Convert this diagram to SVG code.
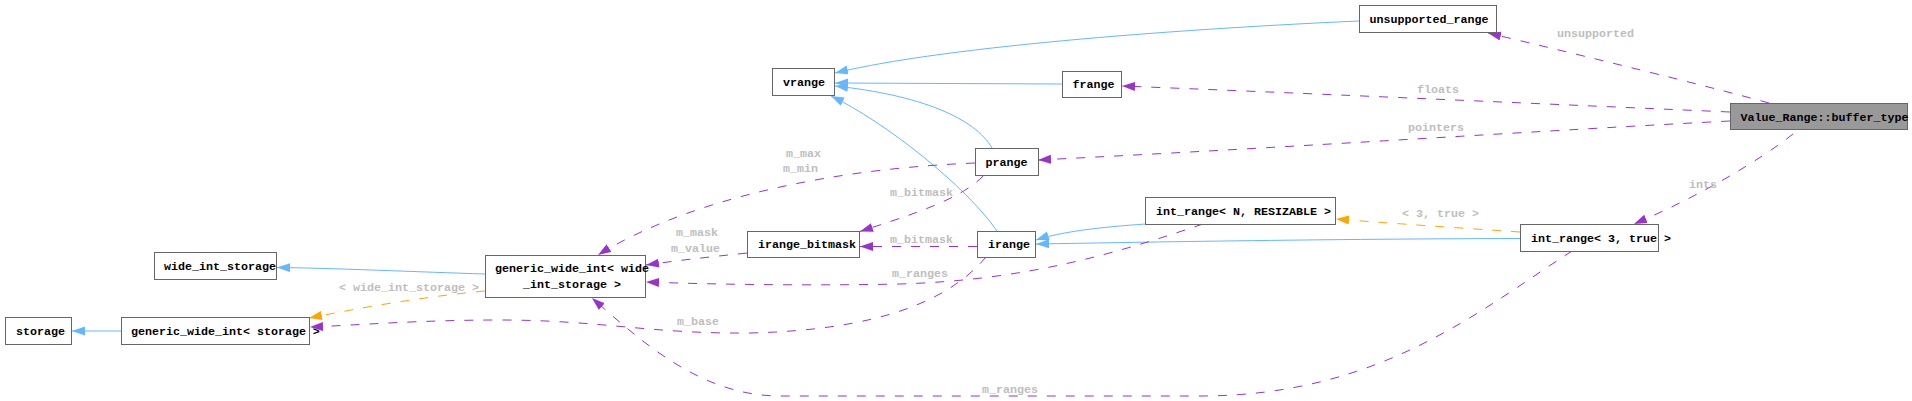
<svg xmlns="http://www.w3.org/2000/svg" width="1912" height="401" viewBox="0 0 1912 401">
<style>
.box{fill:#ffffff;stroke:#666666;stroke-width:1}
.main{fill:#999999;stroke:#666666;stroke-width:1}
.t{font-family:"Liberation Mono","DejaVu Sans Mono",monospace;font-size:11.67px;font-weight:bold;fill:#000000}
.lbl{font-family:"Liberation Mono","DejaVu Sans Mono",monospace;font-size:11.67px;font-weight:bold;fill:#bebebe}
.inh{fill:none;stroke:#63b8ff;stroke-width:1}
.use{fill:none;stroke:#9a32cd;stroke-width:1;stroke-dasharray:9,10}
.tpl{fill:none;stroke:#ffa500;stroke-width:1;stroke-dasharray:9,10}
</style>
<defs>
<marker id="ab" markerUnits="userSpaceOnUse" markerWidth="14" markerHeight="10" refX="13" refY="4.5" orient="auto"><path d="M0,0 L13,4.5 L0,9 z" fill="#63b8ff" stroke="none"/></marker>
<marker id="ap" markerUnits="userSpaceOnUse" markerWidth="14" markerHeight="10" refX="13" refY="4.5" orient="auto"><path d="M0,0 L13,4.5 L0,9 z" fill="#9a32cd" stroke="none"/></marker>
<marker id="ao" markerUnits="userSpaceOnUse" markerWidth="14" markerHeight="10" refX="13" refY="4.5" orient="auto"><path d="M0,0 L13,4.5 L0,9 z" fill="#ffa500" stroke="none"/></marker>
</defs>
<rect x="0" y="0" width="1912" height="401" fill="#ffffff"/>
<g id="connectors">
<path class="inh" d="M121,331 L72,331" marker-end="url(#ab)"/>
<path class="inh" d="M485,274 C420,272 330,268 277,267.5" marker-end="url(#ab)"/>
<path class="inh" d="M1359,21 C1200,28 950,45 835,73" marker-end="url(#ab)"/>
<path class="inh" d="M1062,84 L835,83" marker-end="url(#ab)"/>
<path class="inh" d="M992,148 C975,118 920,95 835,86" marker-end="url(#ab)"/>
<path class="inh" d="M997,231 C965,185 885,122 831,96" marker-end="url(#ab)"/>
<path class="inh" d="M1146,224 C1100,227 1060,232 1036,240" marker-end="url(#ab)"/>
<path class="inh" d="M1520,238.5 C1300,239 1100,243 1036,244" marker-end="url(#ab)"/>
<path class="tpl" d="M1520,232 C1460,228 1400,224 1336,219" marker-end="url(#ao)"/>
<text class="lbl" x="1402" y="217">&lt; 3, true &gt;</text>
<path class="tpl" d="M485,291 C420,297 360,308 309,318" marker-end="url(#ao)"/>
<text class="lbl" x="339" y="290.5">&lt; wide_int_storage &gt;</text>
<path class="use" d="M1769,103 C1700,84 1580,55 1488,33" marker-end="url(#ap)"/>
<text class="lbl" x="1557" y="37">unsupported</text>
<path class="use" d="M1730,112 C1500,102 1300,93 1122,86" marker-end="url(#ap)"/>
<text class="lbl" x="1417" y="93">floats</text>
<path class="use" d="M1730,121 C1550,130 1300,147 1038,160" marker-end="url(#ap)"/>
<text class="lbl" x="1408" y="131">pointers</text>
<path class="use" d="M1793,134 C1760,160 1700,196 1634,224" marker-end="url(#ap)"/>
<text class="lbl" x="1689" y="188">ints</text>
<path class="use" d="M975,163 C800,170 670,210 598,255" marker-end="url(#ap)"/>
<text class="lbl" x="786" y="156.5">m_max</text>
<text class="lbl" x="783" y="172">m_min</text>
<path class="use" d="M983,176 C960,200 910,215 860,231.5" marker-end="url(#ap)"/>
<text class="lbl" x="890" y="196">m_bitmask</text>
<path class="use" d="M977,246.5 L860,246.5" marker-end="url(#ap)"/>
<text class="lbl" x="890" y="243">m_bitmask</text>
<path class="use" d="M747,253 C710,257 680,260 646,265" marker-end="url(#ap)"/>
<text class="lbl" x="676" y="236">m_mask</text>
<text class="lbl" x="671" y="252">m_value</text>
<path class="use" d="M1203,224 C1120,252 1030,280 900,284 C800,286 700,284 646,282" marker-end="url(#ap)"/>
<text class="lbl" x="892" y="276.5">m_ranges</text>
<path class="use" d="M986,257 C950,300 880,330 750,333 C650,334 600,320 500,320 C420,320 360,325 310,327" marker-end="url(#ap)"/>
<text class="lbl" x="677" y="325">m_base</text>
<path class="use" d="M1572,251 C1480,310 1380,396 1200,396 L780,396 C700,396 640,340 592,298" marker-end="url(#ap)"/>
<text class="lbl" x="982" y="392.5">m_ranges</text>
</g>
<g id="node_buffer_type"><rect class="main" x="1730.5" y="103.5" width="177" height="26"/><text class="t" x="1740.5" y="120.5">Value_Range::buffer_type</text></g>
<g id="node_unsupported_range"><rect class="box" x="1359.5" y="5.5" width="137" height="27"/><text class="t" x="1369.5" y="22.5">unsupported_range</text></g>
<g id="node_vrange"><rect class="box" x="772.5" y="68.5" width="62" height="27"/><text class="t" x="783" y="85.5">vrange</text></g>
<g id="node_frange"><rect class="box" x="1062.5" y="71.5" width="59" height="26"/><text class="t" x="1072.5" y="88">frange</text></g>
<g id="node_prange"><rect class="box" x="975.5" y="148.5" width="63" height="27"/><text class="t" x="985.5" y="165.5">prange</text></g>
<g id="node_int_range_N"><rect class="box" x="1145.5" y="197.5" width="190" height="27"/><text class="t" x="1156" y="215">int_range&lt; N, RESIZABLE &gt;</text></g>
<g id="node_irange_bitmask"><rect class="box" x="747.5" y="231.5" width="112" height="26"/><text class="t" x="758" y="248">irange_bitmask</text></g>
<g id="node_irange"><rect class="box" x="977.5" y="231.5" width="58" height="26"/><text class="t" x="988" y="248">irange</text></g>
<g id="node_int_range_3"><rect class="box" x="1520.5" y="224.5" width="138" height="27"/><text class="t" x="1531" y="241.5">int_range&lt; 3, true &gt;</text></g>
<g id="node_wide_int_storage"><rect class="box" x="154.5" y="252.5" width="122" height="27"/><text class="t" x="164" y="269.5">wide_int_storage</text></g>
<g id="node_gwi_wide"><rect class="box" x="485.5" y="255.5" width="160" height="42"/><text class="t" x="495" y="272">generic_wide_int&lt; wide</text><text class="t" x="523" y="288">_int_storage &gt;</text></g>
<g id="node_storage"><rect class="box" x="5.5" y="317.5" width="66" height="27"/><text class="t" x="16" y="335">storage</text></g>
<g id="node_gwi_storage"><rect class="box" x="121.5" y="317.5" width="188" height="27"/><text class="t" x="131" y="335">generic_wide_int&lt; storage &gt;</text></g>
</svg>
